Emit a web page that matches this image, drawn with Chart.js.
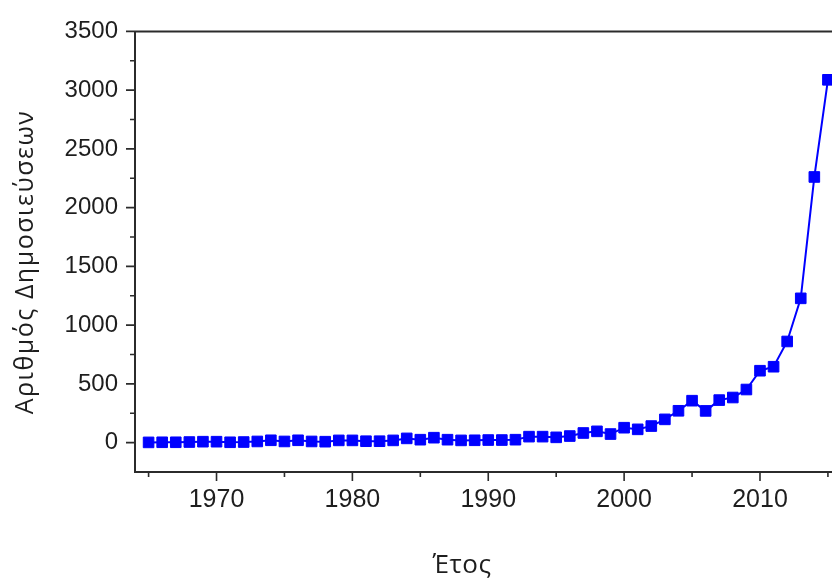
<!DOCTYPE html>
<html>
<head>
<meta charset="utf-8">
<script src="https://cdn.jsdelivr.net/npm/chart.js@4/dist/chart.umd.min.js"></script>
<style>
  html, body { margin: 0; padding: 0; background: #ffffff; }
  #wrap { width: 832px; height: 581px; position: relative; }
</style>
</head>
<body>
<div id="wrap"><canvas id="c" width="832" height="581"></canvas></div>
<script>
// Publications per year
const years = [
  1965, 1966, 1967, 1968, 1969, 1970, 1971, 1972, 1973, 1974,
  1975, 1976, 1977, 1978, 1979, 1980, 1981, 1982, 1983, 1984,
  1985, 1986, 1987, 1988, 1989, 1990, 1991, 1992, 1993, 1994,
  1995, 1996, 1997, 1998, 1999, 2000, 2001, 2002, 2003, 2004,
  2005, 2006, 2007, 2008, 2009, 2010, 2011, 2012, 2013, 2014,
  2015
];
const publications = [
  2, 3, 3, 5, 8, 8, 3, 5, 10, 20,
  10, 20, 10, 8, 19, 19, 12, 12, 19, 36,
  25, 42, 25, 19, 20, 22, 22, 25, 51, 51,
  45, 56, 82, 96, 73, 127, 113, 141, 198, 271,
  357, 270, 362, 384, 452, 612, 646, 861, 1228, 2261,
  3088
];

// Axis ticks
const xMajorTicks = [1970, 1980, 1990, 2000, 2010];
const xMinorTicks = [1965, 1975, 1985, 1995, 2005, 2015];
const yMajorTicks = [0, 500, 1000, 1500, 2000, 2500, 3000, 3500];
const yMinorTicks = [250, 750, 1250, 1750, 2250, 2750, 3250];

const xTitle = 'Έτος';
const yTitle = 'Αριθμός Δημοσιεύσεων';

const AXIS_COLOR = '#2b2b2b';
const TEXT_COLOR = '#1e1e1e';
const SERIES_COLOR = '#0000ff';

// Frame lines, major/minor tick marks and axis titles
const framePlugin = {
  id: 'frame',
  afterDatasetsDraw(chart) {
    const { ctx, chartArea: a, scales: { x, y } } = chart;
    ctx.save();
    ctx.strokeStyle = AXIS_COLOR;
    ctx.lineWidth = 2;
    ctx.beginPath();
    ctx.moveTo(a.left, a.top);
    ctx.lineTo(a.left, a.bottom);
    ctx.lineTo(chart.width, a.bottom);
    ctx.moveTo(a.left, a.top);
    ctx.lineTo(chart.width, a.top);
    ctx.stroke();

    ctx.lineWidth = 1.6;
    ctx.beginPath();
    yMajorTicks.forEach(v => { const p = y.getPixelForValue(v); ctx.moveTo(a.left - 9, p); ctx.lineTo(a.left, p); });
    yMinorTicks.forEach(v => { const p = y.getPixelForValue(v); ctx.moveTo(a.left - 5, p); ctx.lineTo(a.left, p); });
    xMajorTicks.forEach(v => { const p = x.getPixelForValue(v); ctx.moveTo(p, a.bottom); ctx.lineTo(p, a.bottom + 9); });
    xMinorTicks.forEach(v => { const p = x.getPixelForValue(v); ctx.moveTo(p, a.bottom); ctx.lineTo(p, a.bottom + 5); });
    ctx.stroke();

    ctx.fillStyle = TEXT_COLOR;
    ctx.textAlign = 'center';
    ctx.textBaseline = 'middle';
    ctx.font = '26px "Open Sans"';
    ctx.letterSpacing = '0.5px';
    ctx.fillText(xTitle, 462, 566);
    ctx.font = '25px "Open Sans"';
    ctx.letterSpacing = '1.5px';
    ctx.translate(26, 262);
    ctx.rotate(-Math.PI / 2);
    ctx.fillText(yTitle, 0, 0);
    ctx.restore();
  }
};

const tickFamily = '"Liberation Sans", Arial, sans-serif';

new Chart(document.getElementById('c'), {
  type: 'line',
  data: {
    datasets: [{
      data: years.map((yr, i) => ({ x: yr, y: publications[i] })),
      borderColor: SERIES_COLOR,
      backgroundColor: SERIES_COLOR,
      borderWidth: 2,
      pointStyle: 'rect',
      pointRadius: 7.5,
      pointBorderWidth: 1,
      pointBackgroundColor: SERIES_COLOR,
      pointBorderColor: SERIES_COLOR,
      tension: 0,
      clip: false
    }]
  },
  options: {
    responsive: false,
    animation: false,
    devicePixelRatio: 1,
    layout: { autoPadding: false, padding: { top: 28, left: 0, right: 0, bottom: 0 } },
    plugins: { legend: { display: false }, tooltip: { enabled: false } },
    scales: {
      x: {
        type: 'linear',
        min: 1964,
        max: 2015.3,
        grid: { display: false, drawTicks: false },
        border: { display: false },
        afterBuildTicks: s => { s.ticks = xMajorTicks.map(v => ({ value: v })); },
        afterFit: s => { s.height = 109; },
        ticks: {
          callback: v => String(v),
          font: { family: tickFamily, size: 25 },
          color: TEXT_COLOR,
          padding: 13,
          maxRotation: 0,
          autoSkip: false
        }
      },
      y: {
        type: 'linear',
        min: -250,
        max: 3500,
        grid: { display: false, drawTicks: false },
        border: { display: false },
        afterBuildTicks: s => { s.ticks = yMajorTicks.map(v => ({ value: v })); },
        afterFit: s => { s.width = 135; },
        ticks: {
          callback: v => String(v),
          font: { family: tickFamily, size: 24 },
          color: TEXT_COLOR,
          padding: 17,
          autoSkip: false
        }
      }
    }
  },
  plugins: [framePlugin]
});
</script>
</body>
</html>
